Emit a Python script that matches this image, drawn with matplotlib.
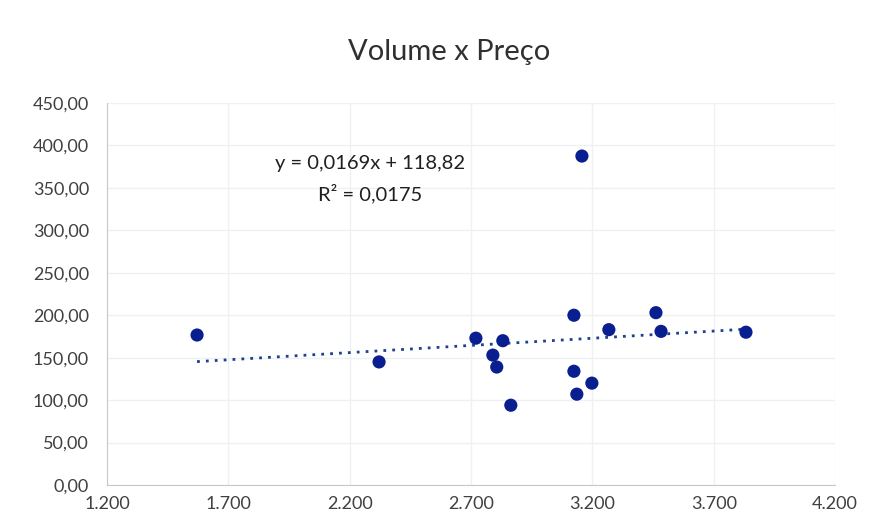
import numpy as np
import matplotlib.pyplot as plt
import matplotlib as mpl

mpl.rcParams['font.family'] = ['Lato', 'DejaVu Sans']

# dados
volume = [1571, 2321, 2720, 2790, 2806, 2831, 2864, 3124, 3124, 3136, 3157, 3198, 3268, 3462, 3483, 3833]
preco = [176.7, 145, 173, 153, 139, 170, 94, 200, 134, 107, 387.5, 120, 183, 203, 181, 180]
coef_a = 0.0169
coef_b = 118.82
eq_text = 'y = 0,0169x + 118,82'
r2_text = 'R² = 0,0175'
xticks = [1200, 1700, 2200, 2700, 3200, 3700, 4200]
yticks = [0, 50, 100, 150, 200, 250, 300, 350, 400, 450]

fig = plt.figure(figsize=(8.73, 5.32), dpi=100)
ax = fig.add_axes([0.1226, 0.0883, 0.8339, 0.7181])

xs = np.array([min(volume), max(volume)])
ax.plot(xs, coef_a * xs + coef_b, linestyle=(0, (1, 2.2)), color='#1f3f8f', lw=2, zorder=2)
ax.scatter(volume, preco, s=90, color='#0a1f8f', zorder=3, edgecolors='none')

ax.set_xlim(1200, 4200)
ax.set_ylim(0, 450)
ax.set_xticks(xticks)
ax.set_yticks(yticks)
ax.set_xticklabels([f'{v:,}'.replace(',', '.') for v in xticks])
ax.set_yticklabels([f'{v:.2f}'.replace('.', ',') for v in yticks])
ax.tick_params(length=0, labelsize=13, colors='#404040')
ax.tick_params(axis='y', pad=13)
ax.tick_params(axis='x', pad=8)
ax.grid(True, color='#eef0f4', lw=1)
ax.set_axisbelow(True)
for s in ['top', 'right']:
    ax.spines[s].set_visible(False)
for s in ['left', 'bottom']:
    ax.spines[s].set_color('#c8c8c8')

# posicao da equacao em coordenadas de dados
ax.text(2284, 379, eq_text, ha='center', va='center', fontsize=14.5, color='#202020')
ax.text(2284, 343, r2_text, ha='center', va='center', fontsize=14.5, color='#202020')

fig.text(0.514, 0.902, 'Volume x Preço', ha='center', va='center', fontsize=21, color='#303030')

plt.savefig('out.png', dpi=100)
